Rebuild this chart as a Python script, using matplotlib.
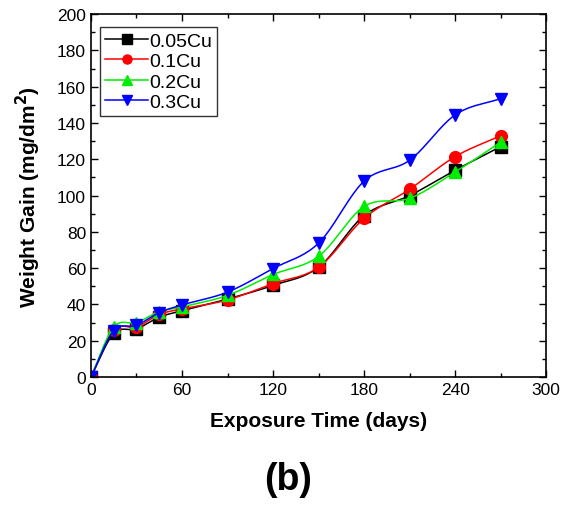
import numpy as np
import matplotlib
matplotlib.use("Agg")
import matplotlib.pyplot as plt

plt.rcParams['font.family'] = ['Liberation Sans', 'DejaVu Sans']

# exposure time (days)
days = [0, 15, 30, 45, 60, 90, 120, 150, 180, 210, 240, 270]

# weight gain (mg/dm^2)
cu_005 = [0, 24, 26.5, 33, 36.5, 43, 50.5, 60.5, 89, 100, 114, 127]
cu_01 = [0, 26, 27.5, 34.5, 37.5, 42.5, 51.5, 60.5, 87.5, 103.5, 121.5, 133]
cu_02 = [0, 27.5, 30, 36, 38.6, 45, 56.5, 66.5, 94, 98.5, 113, 129.5]
cu_03 = [0, 25.5, 28.5, 35.5, 39.7, 46.8, 59.8, 73.8, 108, 119.5, 144.5, 153.5]

labels = ['0.05Cu', '0.1Cu', '0.2Cu', '0.3Cu']
colors = ['black', 'red', '#00ee00', 'blue']
markers = ['s', 'o', '^', 'v']


def smooth(x, y, n=20):
    # cubic hermite with centred slopes, close to Origin's spline connector
    x = np.asarray(x, float)
    y = np.asarray(y, float)
    h = np.diff(x)
    m = np.zeros_like(y)
    m[0] = (y[1] - y[0]) / h[0]
    m[-1] = (y[-1] - y[-2]) / h[-1]
    m[1:-1] = (y[2:] - y[:-2]) / (x[2:] - x[:-2])
    xs, ys = [], []
    for i in range(len(x) - 1):
        t = np.linspace(0, 1, n, endpoint=False)
        h00 = 2 * t**3 - 3 * t**2 + 1
        h10 = t**3 - 2 * t**2 + t
        h01 = -2 * t**3 + 3 * t**2
        h11 = t**3 - t**2
        xs.append(x[i] + t * h[i])
        ys.append(h00 * y[i] + h10 * h[i] * m[i] + h01 * y[i + 1] + h11 * h[i] * m[i + 1])
    xs.append([x[-1]])
    ys.append([y[-1]])
    return np.concatenate(xs), np.concatenate(ys)


fig = plt.figure(figsize=(5.72, 5.06), dpi=100)
ax = fig.add_axes([0.159, 0.253, 0.796, 0.717])

for series, lab, c, mk in zip([cu_005, cu_01, cu_02, cu_03], labels, colors, markers):
    sx, sy = smooth(days, series)
    ax.plot(sx, sy, color=c, linewidth=1.1)
    ax.plot(days, series, linestyle='none', marker=mk, color=c, markersize=8.5)
    ax.plot([], [], color=c, linewidth=1.1, marker=mk, markersize=6.5, label=lab)

ax.set_xlim(0, 300)
ax.set_ylim(0, 200)
ax.set_xticks(np.arange(0, 301, 60))
ax.set_xticks(np.arange(0, 301, 30), minor=True)
ax.set_yticks(np.arange(0, 201, 20))
ax.set_yticks(np.arange(0, 201, 10), minor=True)
ax.tick_params(which='both', direction='in', top=True, right=True, labelsize=12.5)
ax.tick_params(which='major', length=5, width=1)
ax.tick_params(which='minor', length=3, width=1)
for s in ax.spines.values():
    s.set_linewidth(1.2)

ax.set_xlabel('Exposure Time (days)', fontsize=15, fontweight='bold', labelpad=10)
ax.set_ylabel('Weight Gain (mg/dm$^\\mathbf{2}$)', fontsize=15, fontweight='bold', labelpad=10)

leg = ax.legend(loc='upper left', bbox_to_anchor=(0.012, 0.975), fontsize=14,
                frameon=True, fancybox=False, edgecolor='black', handlelength=2.2,
                handletextpad=0.05, borderpad=0.25, labelspacing=0.15, borderaxespad=0.2)
leg.get_frame().set_linewidth(1.0)

fig.text(0.503, 0.052, '(b)', ha='center', va='center', fontsize=27, fontweight='bold')

fig.savefig('out.png', dpi=100)
